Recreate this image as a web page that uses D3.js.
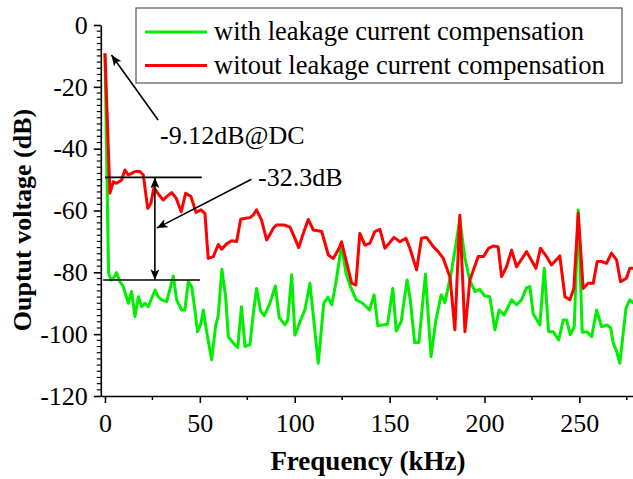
<!DOCTYPE html>
<html>
<head>
<meta charset="utf-8">
<script src="https://cdn.jsdelivr.net/npm/d3@7"></script>
<style>
  body { margin: 0; background: #fff; }
  text { font-family: "Liberation Serif", "Times New Roman", serif; fill: #000; }
</style>
</head>
<body>
<div id="chart"></div>
<script>
// frequency (kHz) / output voltage (dB)
const withFreq = [0, 1.9, 3.2, 4.4, 6.1, 7.9, 9.6, 12.3, 14.0, 15.8, 17.6, 19.3, 21.1, 22.8, 26.4, 28.1, 29.9, 32.5, 36.0, 37.8,
  40.4, 42.1, 43.9, 45.7, 47.4, 48.8, 50.6, 51.8, 53.6, 56.2, 58.3, 59.7, 61.6, 63.6, 65.0, 67.6, 70.0, 71.9, 73.8, 76.4,
  78.2, 79.9, 82.0, 84.0, 86.9, 89.8, 91.8, 94.8, 96.3, 98.4, 100.1, 102.8, 105.4, 108.0, 112.4, 115.3, 117.5, 119.5, 121.5, 124.7,
  127.0, 129.4, 132.4, 135.8, 139.4, 141.8, 143.8, 146.5, 148.9, 151.7, 153.5, 156.1, 159.2, 160.9, 163.2, 165.4, 168.9, 171.8, 174.4, 177.2,
  179.1, 182.2, 184.4, 187.0, 189.7, 192.3, 195.0, 197.6, 200.0, 202.8, 205.5, 207.7, 210.3, 214.3, 216.9, 219.5, 222.1, 223.9, 225.7, 229.2,
  231.5, 233.8, 236.2, 239.1, 241.5, 243.2, 245.2, 247.3, 249.4, 251.5, 253.8, 256.5, 259.1, 261.7, 264.6, 266.5, 267.9, 269.6, 271.3, 274.6,
  276.6, 278.5];
const withDb = [-9.3, -80.3, -82.5, -81.9, -80.1, -83.0, -84.6, -90.0, -86.2, -94.3, -87.9, -91.1, -90.0, -91.1, -85.7, -87.9, -88.9, -89.5, -81.2, -88.9,
  -92.2, -92.2, -83.0, -84.6, -92.2, -99.2, -96.5, -92.2, -99.2, -108.3, -97.5, -93.8, -79.0, -88.0, -100.8, -102.9, -104.3, -91.1, -104.0, -103.3,
  -93.2, -85.2, -92.5, -94.0, -90.0, -84.4, -94.6, -97.0, -95.5, -80.8, -100.3, -96.0, -92.0, -83.5, -109.4, -90.0, -88.0, -90.5, -84.0, -71.2,
  -80.3, -84.6, -88.9, -90.0, -92.2, -87.3, -97.3, -97.0, -96.8, -85.2, -99.0, -96.0, -82.5, -89.0, -102.7, -102.7, -80.6, -107.3, -95.4, -87.3,
  -89.8, -81.0, -73.0, -62.8, -75.5, -82.7, -86.2, -85.5, -87.6, -87.9, -98.6, -92.2, -93.8, -88.9, -90.5, -88.9, -85.0, -84.6, -93.5, -97.0,
  -78.7, -99.2, -99.2, -101.9, -95.4, -95.4, -100.2, -97.6, -59.8, -99.4, -99.2, -100.8, -92.2, -97.6, -97.0, -98.0, -103.0, -105.5, -109.4, -91.5,
  -88.9, -90.0];

const withoutFreq = [0, 2.6, 4.4, 6.1, 8.8, 10.5, 12.3, 14.0, 15.8, 18.4, 20.2, 22.5, 24.2, 25.8, 28.5, 30.7, 32.5, 35.1, 37.5, 40.2,
  42.5, 45.3, 48.0, 50.6, 52.7, 54.4, 57.1, 59.7, 61.5, 64.1, 66.7, 69.4, 71.5, 74.1, 76.4, 78.1, 79.9, 82.5, 85.2, 86.9,
  88.6, 90.3, 94.4, 97.5, 100.1, 102.1, 104.5, 107.1, 109.8, 114.2, 117.7, 120.3, 122.9, 124.7, 127.0, 130.0, 132.2, 134.3, 137.0, 139.6,
  142.2, 144.9, 147.5, 149.8, 152.3, 155.4, 158.6, 160.7, 164.2, 166.8, 169.5, 173.0, 175.6, 178.3, 181.8, 184.4, 187.0, 189.7, 192.3, 196.7,
  199.5, 202.2, 204.6, 207.2, 209.0, 211.6, 214.3, 216.9, 222.2, 227.1, 229.5, 232.7, 235.3, 239.7, 242.4, 245.0, 247.1, 249.4, 252.0, 254.6,
  257.3, 259.4, 261.7, 264.3, 266.9, 269.6, 271.7, 274.8, 276.6, 278.5];
const withoutDb = [-9.12, -54.4, -50.7, -51.2, -50.1, -46.9, -48.5, -48.0, -47.4, -47.4, -48.5, -59.3, -57.7, -52.5, -55.0, -56.6, -55.5, -54.2, -56.0, -60.4,
  -54.4, -55.5, -60.6, -59.8, -61.0, -75.5, -74.9, -71.0, -72.5, -70.8, -69.8, -70.0, -62.8, -62.5, -62.3, -61.5, -59.8, -63.1, -69.5, -67.8,
  -65.8, -64.7, -64.7, -65.4, -69.0, -72.0, -67.4, -62.9, -66.3, -66.8, -74.4, -75.5, -72.8, -70.1, -76.0, -83.5, -84.1, -67.4, -71.2, -70.6,
  -66.8, -66.1, -72.2, -70.6, -68.7, -70.1, -69.0, -72.2, -79.2, -69.0, -68.7, -71.7, -73.3, -75.5, -81.5, -98.6, -61.5, -99.2, -82.5, -74.9,
  -74.9, -72.2, -71.5, -71.7, -81.4, -78.2, -72.8, -78.2, -73.3, -78.7, -72.2, -74.9, -77.6, -74.7, -87.9, -88.9, -85.2, -60.8, -85.2, -83.5,
  -83.5, -76.5, -76.5, -77.1, -73.8, -76.0, -83.0, -81.9, -78.7, -78.7];

const xTicks = [0, 50, 100, 150, 200, 250];
const xMinorTicks = [25, 75, 125, 175, 225, 275];
const yTicks = [0, -20, -40, -60, -80, -100, -120];

const seriesNames = ["with leakage current compensation", "witout leakage current compensation"];
const seriesColors = ["#00ee00", "#ff0000"];

const dcPeak = -9.12;
const levelHigh = -49.3;
const levelLow = -82.5;
const levelDiff = -32.3;

const widthValue = 633;
const heightValue = 479;
const serif = '"Liberation Serif", "Times New Roman", serif';

const svg = d3.select("#chart").append("svg")
  .attr("width", widthValue)
  .attr("height", heightValue);

svg.append("rect").attr("width", widthValue).attr("height", heightValue).attr("fill", "#fff");

const x = d3.scaleLinear().domain([-2.2, 279]).range([100.8, 634.4]);
const y = d3.scaleLinear().domain([-120, 0]).range([396, 25]);

// arrow head
svg.append("defs").append("marker")
  .attr("id", "arrow")
  .attr("viewBox", "0 0 12 10")
  .attr("refX", 12)
  .attr("refY", 5)
  .attr("markerWidth", 12)
  .attr("markerHeight", 9)
  .attr("markerUnits", "userSpaceOnUse")
  .attr("orient", "auto-start-reverse")
  .append("path")
  .attr("d", "M0,0 L12,5 L0,10 L3,5 Z")
  .attr("fill", "#000");

// axes
const xAxis = svg.append("g")
  .attr("transform", `translate(0, ${y(-120)})`)
  .call(d3.axisBottom(x).tickValues(xTicks).tickFormat((d) => String(d))
    .tickSize(7).tickPadding(11).tickSizeOuter(0));

svg.append("g")
  .attr("transform", `translate(0, ${y(-120)})`)
  .selectAll("line")
  .data(xMinorTicks)
  .enter()
  .append("line")
  .attr("x1", (d) => x(d))
  .attr("x2", (d) => x(d))
  .attr("y1", 0)
  .attr("y2", 4)
  .attr("stroke", "#000")
  .attr("stroke-width", 1.5);

const yAxis = svg.append("g")
  .attr("transform", `translate(${x(-2.2)}, 0)`)
  .call(d3.axisLeft(y).tickValues(yTicks).tickFormat((d) => String(d))
    .tickSize(7).tickPadding(6).tickSizeOuter(0));

const yMinor = d3.range(-118, 0, 2).filter((d) => d % 20 !== 0);
svg.append("g")
  .attr("transform", `translate(${x(-2.2)}, 0)`)
  .selectAll("line")
  .data(yMinor)
  .enter()
  .append("line")
  .attr("x1", 0)
  .attr("x2", -4)
  .attr("y1", (d) => y(d))
  .attr("y2", (d) => y(d))
  .attr("stroke", "#000")
  .attr("stroke-width", 1.2);

[xAxis, yAxis].forEach(function (a) {
  a.attr("font-family", serif).attr("font-size", 26);
  a.select(".domain").attr("stroke-width", 1.6);
  a.selectAll(".tick line").attr("stroke-width", 1.6);
  a.selectAll(".tick text")
    .style("font-family", serif)
    .style("font-size", "26px");
});

// data lines
const line = d3.line()
  .x((d) => x(d[0]))
  .y((d) => y(d[1]));

const withData = withFreq.map((f, i) => [f, withDb[i]]);
const withoutData = withoutFreq.map((f, i) => [f, withoutDb[i]]);

svg.append("path")
  .datum(withData)
  .attr("d", line)
  .attr("fill", "none")
  .attr("stroke", seriesColors[0])
  .attr("stroke-width", 3)
  .attr("stroke-linejoin", "round");

svg.append("path")
  .datum(withoutData)
  .attr("d", line)
  .attr("fill", "none")
  .attr("stroke", seriesColors[1])
  .attr("stroke-width", 3)
  .attr("stroke-linejoin", "round");

// annotations
const ann = svg.append("g").attr("stroke", "#000").attr("stroke-width", 1.6);

ann.append("line")
  .attr("x1", x(28)).attr("y1", y(-30.7))
  .attr("x2", x(3.4)).attr("y2", y(dcPeak - 0.6))
  .attr("marker-end", "url(#arrow)");

ann.append("line")
  .attr("x1", x(0)).attr("x2", x(51))
  .attr("y1", y(levelHigh)).attr("y2", y(levelHigh));

ann.append("line")
  .attr("x1", x(-1)).attr("x2", x(50))
  .attr("y1", y(levelLow)).attr("y2", y(levelLow));

ann.append("line")
  .attr("x1", x(26.3)).attr("x2", x(26.3))
  .attr("y1", y(levelHigh)).attr("y2", y(levelLow))
  .attr("marker-start", "url(#arrow)")
  .attr("marker-end", "url(#arrow)");

ann.append("line")
  .attr("x1", x(77.2)).attr("y1", y(-49.9))
  .attr("x2", x(27.3)).attr("y2", y(-65.7))
  .attr("marker-end", "url(#arrow)");

svg.append("text")
  .attr("x", 160)
  .attr("y", 144)
  .style("font-size", "26px")
  .text(`${dcPeak}dB@DC`);

svg.append("text")
  .attr("x", 258)
  .attr("y", 186)
  .style("font-size", "26px")
  .text(`${levelDiff}dB`);

// legend
const legend = svg.append("g");
legend.append("rect")
  .attr("x", 136).attr("y", 8)
  .attr("width", 486).attr("height", 75)
  .attr("fill", "#fff")
  .attr("stroke", "#555")
  .attr("stroke-width", 1.2);

seriesNames.forEach(function (name, i) {
  const ly = 32 + i * 33.5;
  legend.append("line")
    .attr("x1", 145).attr("x2", 207)
    .attr("y1", ly).attr("y2", ly)
    .attr("stroke", seriesColors[i])
    .attr("stroke-width", 3);
  legend.append("text")
    .attr("x", 214)
    .attr("y", ly + 8)
    .style("font-size", "26.5px")
    .text(name);
});

// axis titles
svg.append("text")
  .attr("x", 368)
  .attr("y", 470)
  .attr("text-anchor", "middle")
  .style("font-size", "27px")
  .style("font-weight", "bold")
  .text("Frequency (kHz)");

svg.append("text")
  .attr("transform", "translate(31, 220) rotate(-90)")
  .attr("text-anchor", "middle")
  .style("font-size", "26px")
  .style("font-weight", "bold")
  .text("Ouptut voltage (dB)");
</script>
</body>
</html>
